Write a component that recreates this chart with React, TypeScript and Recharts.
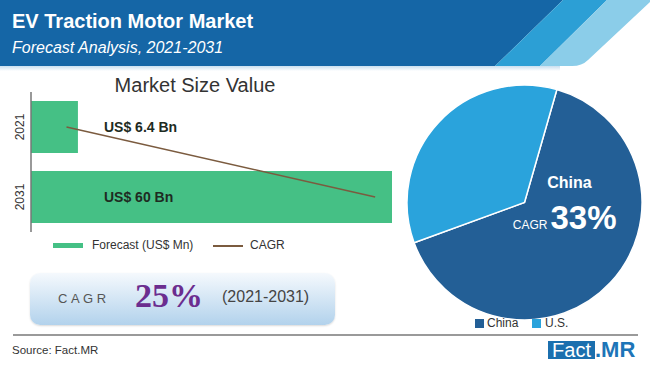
import React from "react"
import { ComposedChart, Bar, Line, XAxis, YAxis, LabelList, PieChart, Pie, Cell } from "recharts"

const years = ["2021", "2031"]
const forecastValues = [7.8, 60]
const cagrLine = [5.9, 57.2]
const valueLabels = ["US$ 6.4 Bn", "US$ 60 Bn"]

const regions = ["China", "U.S."]
const regionShares = [65, 35]
const regionColors = ["#235f96", "#2aa3dc"]

const FONT = "'Liberation Sans', Arial, sans-serif"
const GREEN = "#45c085"
const BROWN = "#7b5b3f"

const barData = years.map((year, i) => ({
  year,
  forecast: forecastValues[i],
  cagr: cagrLine[i],
  label: valueLabels[i],
}))

const pieData = regions.map((name, i) => ({ name, value: regionShares[i] }))

function YearTick(props: any) {
  const { y, payload } = props
  return (
    <text
      x={20}
      y={y}
      transform={`rotate(-90, 20, ${y})`}
      textAnchor="middle"
      dominantBaseline="central"
      fontSize={12}
      fill="#333"
      fontFamily={FONT}
    >
      {payload.value}
    </text>
  )
}

function BarValueLabel(props: any) {
  const { x, y, height, value } = props
  return (
    <text
      x={x + 73}
      y={y + height / 2}
      dominantBaseline="central"
      fontSize={14}
      fontWeight="bold"
      fill="#1e2b22"
      fontFamily={FONT}
    >
      {value}
    </text>
  )
}

function ChinaLabel(props: any) {
  const { cx, cy, index } = props
  if (index !== 0) return null
  return (
    <g fontFamily={FONT} fill="#fff">
      <text x={cx + 45} y={cy - 14.5} textAnchor="middle" fontSize={16} fontWeight="bold">
        China
      </text>
      <text x={cx + 23} y={cy + 26.5} textAnchor="end" fontSize={12}>
        CAGR
      </text>
      <text x={cx + 26} y={cy + 26.5} fontSize={33} fontWeight="bold">
        33%
      </text>
    </g>
  )
}

export default function App() {
  return (
    <div
      style={{
        position: "fixed",
        left: 0,
        top: 0,
        width: 650,
        height: 368,
        background: "#fff",
        overflow: "hidden",
        fontFamily: FONT,
      }}
    >
      {/* header band */}
      <svg width={650} height={72} style={{ position: "absolute", left: 0, top: 0 }}>
        <defs>
          <linearGradient id="shade" x1="0" y1="0" x2="0" y2="1">
            <stop offset="0" stopColor="#c9dff0" />
            <stop offset="1" stopColor="#ffffff" />
          </linearGradient>
        </defs>
        <rect x={0} y={66} width={560} height={5} fill="url(#shade)" />
        <polygon points="0,0 563,0 495,66 0,66" fill="#1566a6" />
        <polygon points="563,0 607,0 540,66 495,66" fill="#2c9fd5" />
        <path d="M607,0 L650,0 L650,2 L588,60 Q582,66 572,66 L540,66 Z" fill="#8bcde9" />
        <text x={12} y={28} fontSize={20} fontWeight="bold" fill="#fff">
          EV Traction Motor Market
        </text>
        <text x={12} y={53} fontSize={16} fontStyle="italic" fill="#fff">
          Forecast Analysis, 2021-2031
        </text>
      </svg>

      <div
        style={{
          position: "absolute",
          left: 0,
          top: 74,
          width: 390,
          textAlign: "center",
          fontSize: 20,
          color: "#333",
        }}
      >
        Market Size Value
      </div>

      <div style={{ position: "absolute", left: 0, top: 70 }}>
        <ComposedChart
          layout="vertical"
          width={400}
          height={200}
          data={barData}
          margin={{ top: 22, right: 8, bottom: 38, left: 0 }}
          barCategoryGap={9}
        >
          <XAxis type="number" domain={[0, 60]} hide />
          <YAxis
            type="category"
            dataKey="year"
            width={31}
            tickLine={false}
            axisLine={{ stroke: "#777", strokeWidth: 1.5 }}
            tick={<YearTick />}
          />
          <Bar dataKey="forecast" fill={GREEN} isAnimationActive={false}>
            <LabelList dataKey="label" content={<BarValueLabel />} />
          </Bar>
          <Line
            dataKey="cagr"
            stroke={BROWN}
            strokeWidth={1.5}
            dot={false}
            isAnimationActive={false}
          />
        </ComposedChart>
      </div>

      {/* bar chart legend */}
      <div style={{ position: "absolute", left: 0, top: 237, width: 400, height: 18, fontSize: 12, color: "#333" }}>
        <div style={{ position: "absolute", left: 53, top: 6, width: 30, height: 5, background: GREEN }} />
        <div style={{ position: "absolute", left: 92, top: 1 }}>Forecast (US$ Mn)</div>
        <div style={{ position: "absolute", left: 213, top: 8, width: 30, height: 2, background: BROWN }} />
        <div style={{ position: "absolute", left: 250, top: 1 }}>CAGR</div>
      </div>

      {/* CAGR box */}
      <div
        style={{
          position: "absolute",
          left: 30,
          top: 273,
          width: 305,
          height: 52,
          borderRadius: 10,
          background: "linear-gradient(#f5f9fd, #b2d2ec)",
          boxShadow: "0 1px 2px rgba(0,0,0,0.15)",
        }}
      >
        <span style={{ position: "absolute", left: 28, top: 18, fontSize: 13, letterSpacing: 3.5, color: "#555" }}>
          CAGR
        </span>
        <span
          style={{
            position: "absolute",
            left: 105,
            top: 4,
            fontSize: 34,
            fontWeight: "bold",
            color: "#6b2d8f",
            fontFamily: "'Liberation Serif', 'Times New Roman', serif",
          }}
        >
          25%
        </span>
        <span style={{ position: "absolute", left: 192, top: 15, fontSize: 16, color: "#444" }}>
          (2021-2031)
        </span>
      </div>

      <div style={{ position: "absolute", left: 400, top: 70 }}>
        <PieChart width={250} height={250}>
          <Pie
            data={pieData}
            dataKey="value"
            nameKey="name"
            cx={119.5}
            cy={127.5}
            outerRadius={117.5}
            startAngle={74}
            endAngle={-286}
            stroke="#fff"
            strokeWidth={1.5}
            labelLine={false}
            label={ChinaLabel}
            isAnimationActive={false}
          >
            {pieData.map((d, i) => (
              <Cell key={d.name} fill={regionColors[i]} />
            ))}
          </Pie>
        </PieChart>
      </div>

      {/* pie legend */}
      <div style={{ position: "absolute", left: 0, top: 315, width: 650, fontSize: 12, color: "#333" }}>
        {regions.map((r, i) => (
          <React.Fragment key={r}>
            <div
              style={{
                position: "absolute",
                left: i === 0 ? 475 : 532,
                top: 4,
                width: 9,
                height: 9,
                background: regionColors[i],
              }}
            />
            <div style={{ position: "absolute", left: i === 0 ? 487 : 545, top: 1 }}>{r}</div>
          </React.Fragment>
        ))}
      </div>

      {/* footer */}
      <div style={{ position: "absolute", left: 13, top: 334, width: 625, height: 2, background: "#9a9a9a" }} />
      <div style={{ position: "absolute", left: 12, top: 344, fontSize: 11.5, color: "#333" }}>Source: Fact.MR</div>
      <div
        style={{
          position: "absolute",
          left: 548,
          top: 341,
          width: 47,
          height: 18,
          background: "#1b6fae",
          color: "#fff",
          fontSize: 20,
          lineHeight: "18px",
          textAlign: "center",
        }}
      >
        Fact
      </div>
      <div
        style={{
          position: "absolute",
          left: 595,
          top: 338,
          fontSize: 22,
          lineHeight: "24px",
          fontWeight: "bold",
          color: "#1d75b8",
        }}
      >
        .MR
      </div>
    </div>
  )
}
